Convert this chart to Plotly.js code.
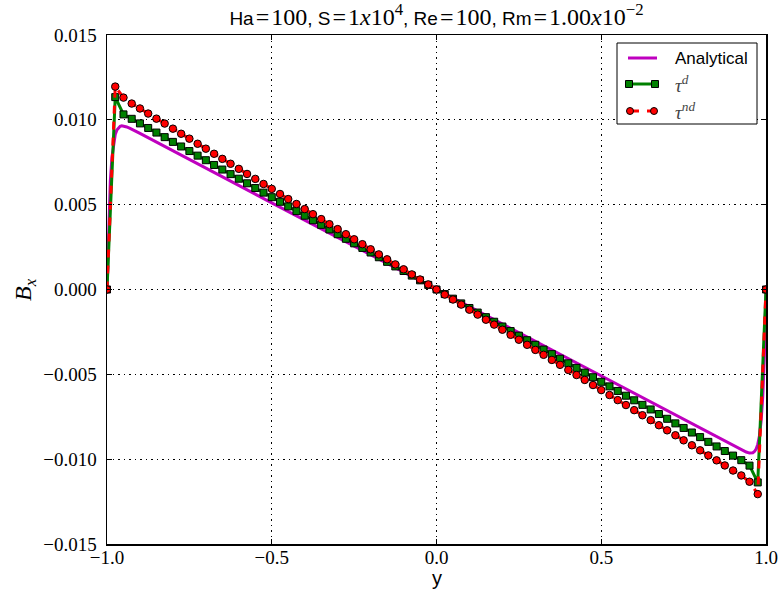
<!DOCTYPE html>
<html>
<head>
<meta charset="utf-8">
<script src="https://cdn.plot.ly/plotly-3.0.1.min.js"></script>
<style>html,body{margin:0;padding:0;background:#fff;}#chart{width:779px;height:590px;}</style>
</head>
<body>
<div id="chart"></div>
<script>
// ---- data ----
const xNodes = [-1,-0.975,-0.95,-0.925,-0.9,-0.875,-0.85,-0.825,-0.8,-0.775,-0.75,-0.725,-0.7,-0.675,-0.65,-0.625,-0.6,-0.575,-0.55,-0.525,-0.5,-0.475,-0.45,-0.425,-0.4,-0.375,-0.35,-0.325,-0.3,-0.275,-0.25,-0.225,-0.2,-0.175,-0.15,-0.125,-0.1,-0.075,-0.05,-0.025,0,0.025,0.05,0.075,0.1,0.125,0.15,0.175,0.2,0.225,0.25,0.275,0.3,0.325,0.35,0.375,0.4,0.425,0.45,0.475,0.5,0.525,0.55,0.575,0.6,0.625,0.65,0.675,0.7,0.725,0.75,0.775,0.8,0.825,0.85,0.875,0.9,0.925,0.95,0.975,1];

const tauD = [0,0.01134,0.01032,0.01006,0.00979,0.00952,0.00925,0.00898,0.00870,0.00843,0.00816,0.00789,0.00762,0.00734,0.00707,0.00680,0.00653,0.00626,0.00598,0.00571,0.00544,0.00517,0.00490,0.00462,0.00435,0.00408,0.00381,0.00354,0.00326,0.00299,0.00272,0.00245,0.00218,0.00190,0.00163,0.00136,0.00109,0.00082,0.00054,0.00027,0,
-0.00027,-0.00054,-0.00082,-0.00109,-0.00136,-0.00163,-0.00190,-0.00218,-0.00245,-0.00272,-0.00299,-0.00326,-0.00354,-0.00381,-0.00408,-0.00435,-0.00462,-0.00490,-0.00517,-0.00544,-0.00571,-0.00598,-0.00626,-0.00653,-0.00680,-0.00707,-0.00734,-0.00762,-0.00789,-0.00816,-0.00843,-0.00870,-0.00898,-0.00925,-0.00952,-0.00979,-0.01006,-0.01038,-0.01137,0];

const tauND = [0,0.01196,0.01131,0.01096,0.01067,0.01037,0.01007,0.00978,0.00948,0.00918,0.00889,0.00859,0.00830,0.00800,0.00770,0.00741,0.00711,0.00681,0.00652,0.00622,0.00593,0.00563,0.00533,0.00504,0.00474,0.00444,0.00415,0.00385,0.00356,0.00326,0.00296,0.00267,0.00237,0.00207,0.00178,0.00148,0.00119,0.00089,0.00059,0.00030,0,
-0.00030,-0.00059,-0.00089,-0.00119,-0.00148,-0.00178,-0.00207,-0.00237,-0.00267,-0.00296,-0.00326,-0.00356,-0.00385,-0.00415,-0.00444,-0.00474,-0.00504,-0.00533,-0.00563,-0.00593,-0.00622,-0.00652,-0.00681,-0.00711,-0.00741,-0.00770,-0.00800,-0.00830,-0.00859,-0.00889,-0.00918,-0.00948,-0.00978,-0.01007,-0.01037,-0.01067,-0.01096,-0.01133,-0.01206,0];

const xAnalytical = [-1,-0.995,-0.99,-0.985,-0.98,-0.975,-0.97,-0.965,-0.96,-0.955,-0.95,-0.94,-0.93,-0.9,-0.5,0,0.5,0.9,0.93,0.94,0.95,0.955,0.96,0.965,0.97,0.975,0.98,0.985,0.99,0.995,1];
const bAnalytical = [0,0.00397,0.00636,0.00779,0.00863,0.00913,0.00940,0.00955,0.00962,0.00965,0.00964,0.00958,0.00950,0.00920,0.00511,0,-0.00511,-0.00920,-0.00950,-0.00958,-0.00964,-0.00965,-0.00962,-0.00955,-0.00940,-0.00913,-0.00863,-0.00779,-0.00636,-0.00397,0];

const xTickVals = [-1,-0.5,0,0.5,1];
const xTickText = ['\u22121.0','\u22120.5','0.0','0.5','1.0'];
const yTickVals = [-0.015,-0.01,-0.005,0,0.005,0.01,0.015];
const yTickText = ['\u22120.015','\u22120.010','\u22120.005','0.000','0.005','0.010','0.015'];
const seriesNames = ['Analytical','<i>\u03c4</i><sup><i>d</i></sup>','<i>\u03c4</i><sup><i>nd</i></sup>'];

// ---- styling ----
const SERIF = 'Liberation Serif, Times New Roman, serif';
const SANS = 'Liberation Sans, Arial, sans-serif';
const MAG = '#bf00bf', GRN = '#008000', RED = '#ff0000';

const traces = [
  {x: xAnalytical, y: bAnalytical, mode: 'lines', name: seriesNames[0],
   line: {color: MAG, width: 3}},
  {x: xNodes, y: tauD, mode: 'lines+markers', name: seriesNames[1],
   line: {color: GRN, width: 3},
   marker: {symbol: 'square', size: 7, color: GRN, line: {color: '#000', width: 1}}},
  {x: xNodes, y: tauND, mode: 'lines+markers', name: seriesNames[2],
   line: {color: RED, width: 3, dash: '8px,8px'},
   marker: {symbol: 'circle', size: 7.5, color: RED, line: {color: '#000', width: 1}}}
];

// plot-area pixel geometry
const L = 107, R = 766, T = 35, B = 544;
const P = px => (px - L) / (R - L);
const Q = py => 1 - (py - T) / (B - T);

const shapes = [
  {type: 'rect', xref: 'paper', yref: 'paper', x0: P(617), x1: P(757), y0: Q(124), y1: Q(43),
   fillcolor: '#fff', line: {color: '#000', width: 1}, layer: 'above'},
  {type: 'line', xref: 'paper', yref: 'paper', x0: P(628), x1: P(657), y0: Q(58), y1: Q(58),
   line: {color: MAG, width: 3}, layer: 'above'},
  {type: 'line', xref: 'paper', yref: 'paper', x0: P(629), x1: P(655), y0: Q(84), y1: Q(84),
   line: {color: GRN, width: 3}, layer: 'above'},
  {type: 'line', xref: 'paper', yref: 'paper', x0: P(630), x1: P(639), y0: Q(111), y1: Q(111),
   line: {color: RED, width: 3}, layer: 'above'},
  {type: 'line', xref: 'paper', yref: 'paper', x0: P(647), x1: P(654), y0: Q(111), y1: Q(111),
   line: {color: RED, width: 3}, layer: 'above'}
];
function sq(px, py, type, color) {
  return {type: type, xref: 'paper', yref: 'paper', xsizemode: 'pixel', ysizemode: 'pixel',
    xanchor: P(px), yanchor: Q(py), x0: -3.5, x1: 3.5, y0: -3.5, y1: 3.5,
    fillcolor: color, line: {color: '#000', width: 1}, layer: 'above'};
}
shapes.push(sq(629, 84, 'rect', GRN), sq(655, 84, 'rect', GRN),
            sq(630, 111, 'circle', RED), sq(654, 111, 'circle', RED));

const annotations = [
  {xref: 'paper', yref: 'paper', x: P(673), y: Q(58), xanchor: 'left', yanchor: 'middle', showarrow: false,
   text: seriesNames[0], font: {family: SANS, size: 17, color: '#000'}},
  {xref: 'paper', yref: 'paper', x: P(673), y: Q(84), xanchor: 'left', yanchor: 'middle', showarrow: false,
   text: seriesNames[1], font: {family: SERIF, size: 19, color: '#444'}},
  {xref: 'paper', yref: 'paper', x: P(673), y: Q(111), xanchor: 'left', yanchor: 'middle', showarrow: false,
   text: seriesNames[2], font: {family: SERIF, size: 19, color: '#444'}},
  // x-axis title
  {xref: 'paper', yref: 'paper', x: 0.5, y: Q(578), xanchor: 'center', yanchor: 'middle', showarrow: false,
   text: 'y', font: {family: SANS, size: 20, color: '#000'}},
  // y-axis title
  {xref: 'paper', yref: 'paper', x: P(25), y: Q(290), xanchor: 'center', yanchor: 'middle', showarrow: false,
   textangle: -90, text: '<i>B</i><sub><i>x</i></sub>', font: {family: SERIF, size: 24, color: '#000'}}
];

const sv = s => '<span style="font-family:Liberation Serif;font-size:24px">' + s + '</span>';
const EQ = '\u200a=\u200a';
const titleText = 'Ha' + sv(EQ + '100') + ', S' + sv(EQ + '1<i>x</i>10<sup>4</sup>') + ', Re' + sv(EQ + '100') +
                  ', Rm' + sv(EQ + '1.00<i>x</i>10<sup>\u22122</sup>');

const axisCommon = {
  showline: true, linecolor: '#000', linewidth: 1.5, mirror: 'allticks',
  ticks: 'inside', ticklen: 5, tickwidth: 1, tickcolor: '#000',
  showgrid: true, gridcolor: '#000', gridwidth: 1, griddash: '1.5px,4px',
  zeroline: false, tickfont: {family: SERIF, size: 19, color: '#000'}, tickmode: 'array'
};

const layout = {
  width: 779, height: 590,
  margin: {l: L, r: 779 - R, t: T, b: 590 - B, autoexpand: false},
  paper_bgcolor: '#fff', plot_bgcolor: '#fff',
  showlegend: false,
  title: {text: titleText, font: {family: SANS, size: 19, color: '#000'},
          x: 0.5, xref: 'paper', xanchor: 'center', y: 1, yref: 'paper', yanchor: 'bottom', pad: {b: 10}},
  xaxis: Object.assign({}, axisCommon, {range: [-1, 1], tickvals: xTickVals, ticktext: xTickText,
    ticklabelstandoff: -4}),
  yaxis: Object.assign({}, axisCommon, {range: [-0.015, 0.015], tickvals: yTickVals, ticktext: yTickText,
    ticklabelstandoff: 5}),
  shapes: shapes,
  annotations: annotations
};

Plotly.newPlot('chart', traces, layout, {staticPlot: true, displayModeBar: false});
</script>
</body>
</html>
